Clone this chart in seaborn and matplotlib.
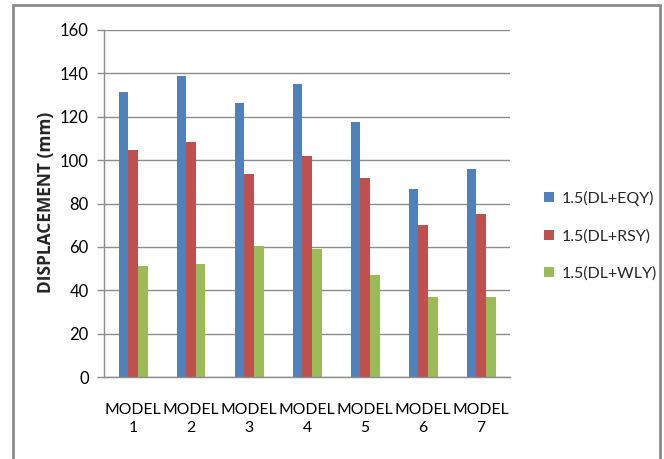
import matplotlib
matplotlib.use("Agg")
import matplotlib.pyplot as plt
from matplotlib.patches import Rectangle
import seaborn as sns
import pandas as pd

models = ["MODEL\n1", "MODEL\n2", "MODEL\n3", "MODEL\n4", "MODEL\n5", "MODEL\n6", "MODEL\n7"]
series = ["1.5(DL+EQY)", "1.5(DL+RSY)", "1.5(DL+WLY)"]
eqy = [131.2, 138.8, 126.2, 135.1, 117.5, 86.6, 95.8]
rsy = [104.5, 108.5, 93.7, 101.8, 91.8, 70.0, 75.1]
wly = [51.2, 52.3, 60.3, 58.8, 47.2, 37.1, 37.1]
yticks = [0, 20, 40, 60, 80, 100, 120, 140, 160]

colors = ["#4F81BD", "#C0504D", "#9BBB59"]

rows = []
for name, vals in zip(series, [eqy, rsy, wly]):
    for m, v in zip(models, vals):
        rows.append({"model": m, "series": name, "value": v})
df = pd.DataFrame(rows)

sns.set_style("white")
plt.rcParams["font.family"] = ["Lato", "DejaVu Sans"]

fig = plt.figure(figsize=(6.64, 4.59), dpi=100)
ax = fig.add_axes([104 / 664, 1 - 377 / 459, (510 - 104) / 664, (377 - 30) / 459])

sns.barplot(data=df, x="model", y="value", hue="series", palette=colors,
            width=0.5, gap=0, saturation=1, ax=ax, legend=True,
            edgecolor="none", linewidth=0)

ax.set_ylim(0, 160)
ax.set_xlim(-0.5, len(models) - 0.5)
ax.set_yticks(yticks)
ax.yaxis.grid(True, color="#8c8c8c", linewidth=1)
ax.set_axisbelow(True)
for s in ["top", "right"]:
    ax.spines[s].set_visible(False)
for s in ["left", "bottom"]:
    ax.spines[s].set_color("#8c8c8c")
    ax.spines[s].set_linewidth(1)

ax.tick_params(axis="y", which="major", direction="out", length=5, width=1,
               color="#8c8c8c", labelsize=12, labelcolor="#000000", pad=6, left=True)
ax.tick_params(axis="x", length=0, labelsize=11.3, labelcolor="#000000", pad=19)
for lbl in ax.get_xticklabels():
    lbl.set_linespacing(1.35)

ax.set_xlabel("")
ax.set_ylabel("")
fig.text(46 / 664, 1 - 202 / 459, "DISPLACEMENT (mm)", rotation=90,
         ha="center", va="center", fontsize=12.5, fontweight="bold",
         family=["Open Sans", "DejaVu Sans"])

handles, labels = ax.get_legend_handles_labels()
ax.get_legend().remove()
fig.legend(handles, labels, loc="center left",
           bbox_to_anchor=(530 / 664, 1 - 236 / 459), frameon=False,
           fontsize=11.5, handlelength=0.6, handleheight=0.6, handletextpad=0.5,
           labelspacing=1.45)

# chart-area frame
fig.patches.append(Rectangle((13 / 664, -0.05), (660 - 13) / 664, 1.05 - 5 / 459,
                             transform=fig.transFigure, fill=False,
                             edgecolor="#8c8c8c", linewidth=2, clip_on=False))

fig.savefig("out.png", dpi=100)
